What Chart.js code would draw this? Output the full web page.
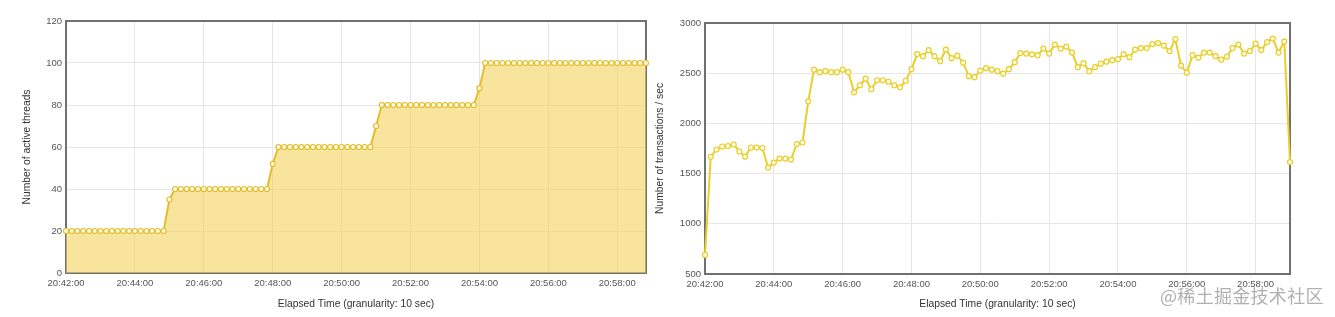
<!DOCTYPE html>
<html>
<head>
<meta charset="utf-8">
<script src="https://cdn.jsdelivr.net/npm/chart.js@4.4.0/dist/chart.umd.min.js"></script>
<style>
    body { margin: 0; background: #fff; width: 1335px; height: 317px; overflow: hidden; position: relative; }
    canvas { position: absolute; top: 0; }
    #threadsChart { left: 0; }
    #tpsChart { left: 640px; }
    .mark {
        position: absolute; left: 1160px; top: 282px;
        font-family: "Noto Sans CJK SC", sans-serif; font-size: 18px;
        color: rgba(150, 150, 150, 0.75); letter-spacing: 0.3px;
    }
</style>
</head>
<body>
<canvas id="threadsChart" width="660" height="317"></canvas>
<canvas id="tpsChart" width="695" height="317"></canvas>
<div class="mark">@稀土掘金技术社区</div>
<script>
// 10 sec granularity, starting at 20:42:00
const granularity = 10;
const startTime = 20 * 3600 + 42 * 60;

const threads = [
    20, 20, 20, 20, 20, 20, 20, 20, 20, 20, 20, 20, 20, 20, 20, 20, 20, 20,
    35,
    40, 40, 40, 40, 40, 40, 40, 40, 40, 40, 40, 40, 40, 40, 40, 40, 40,
    52,
    60, 60, 60, 60, 60, 60, 60, 60, 60, 60, 60, 60, 60, 60, 60, 60, 60,
    70,
    80, 80, 80, 80, 80, 80, 80, 80, 80, 80, 80, 80, 80, 80, 80, 80, 80,
    88,
    100, 100, 100, 100, 100, 100, 100, 100, 100, 100, 100, 100, 100, 100, 100,
    100, 100, 100, 100, 100, 100, 100, 100, 100, 100, 100, 100, 100, 100
];

const tps = [
    690, 1667, 1740, 1770, 1775, 1790, 1720, 1670, 1760, 1760,
    1755, 1560, 1610, 1650, 1650, 1640, 1795, 1810, 2220, 2535,
    2510, 2520, 2510, 2510, 2535, 2510, 2310, 2380, 2445, 2340,
    2430, 2430, 2415, 2380, 2360, 2425, 2540, 2690, 2670, 2730,
    2670, 2620, 2735, 2650, 2675, 2605, 2470, 2460, 2525, 2550,
    2535, 2520, 2495, 2540, 2610, 2700, 2695, 2688, 2680, 2745,
    2695, 2785, 2745, 2765, 2705, 2560, 2600, 2520, 2560, 2595,
    2615, 2630, 2640, 2690, 2660, 2735, 2750, 2750, 2790, 2800,
    2775, 2720, 2840, 2575, 2505, 2680, 2655, 2705, 2705, 2670,
    2635, 2665, 2750, 2785, 2695, 2720, 2795, 2730, 2810, 2845,
    2705, 2815, 1615
];

const xTitle = 'Elapsed Time (granularity: 10 sec)';

function fmtTime(sec) {
    const t = startTime + sec;
    const h = Math.floor(t / 3600);
    const m = Math.floor((t % 3600) / 60);
    const s = t % 60;
    return [h, m, s].map(v => String(v).padStart(2, '0')).join(':');
}

const boxPlugin = {
    id: 'box',
    beforeDatasetsDraw(chart) {
        const a = chart.chartArea;
        const ctx = chart.ctx;
        ctx.save();
        ctx.strokeStyle = '#707070';
        ctx.lineWidth = 2;
        ctx.strokeRect(a.left, a.top, a.right - a.left, a.bottom - a.top);
        ctx.restore();
    }
};

Chart.defaults.font.family = '"Liberation Sans", Arial, sans-serif';

function makeChart(canvasId, values, opts) {
    const ctx = document.getElementById(canvasId).getContext('2d');
    const pts = values.map((v, i) => ({ x: i * granularity, y: v }));
    return new Chart(ctx, {
        type: 'line',
        data: {
            datasets: [{
                data: pts,
                borderColor: opts.color,
                backgroundColor: opts.fillColor,
                fill: opts.fill,
                clip: false,
                borderWidth: 2,
                tension: 0,
                pointRadius: 2.5,
                pointBorderWidth: 1.2,
                pointBorderColor: opts.color,
                pointBackgroundColor: '#fffbe8'
            }]
        },
        options: {
            responsive: false,
            animation: false,
            layout: { padding: { top: opts.top, right: opts.right, left: 0, bottom: 0 } },
            plugins: { legend: { display: false }, tooltip: { enabled: false } },
            scales: {
                x: {
                    type: 'linear',
                    min: 0,
                    max: opts.xMax,
                    afterFit: s => { s.height = opts.xHeight; },
                    grid: { color: '#e6e6e6', drawTicks: false },
                    border: { display: false },
                    ticks: {
                        stepSize: 120,
                        includeBounds: false,
                        maxRotation: 0,
                        padding: 5,
                        color: '#555',
                        font: { size: 9.5 },
                        callback: v => fmtTime(v)
                    },
                    title: {
                        display: true,
                        text: xTitle,
                        color: '#333',
                        font: { size: 10.3 },
                        padding: { top: 4, bottom: 7 }
                    }
                },
                y: {
                    min: opts.yMin,
                    max: opts.yMax,
                    afterFit: s => { s.width = opts.yWidth; },
                    grid: { color: '#e6e6e6', drawTicks: false },
                    border: { display: false },
                    ticks: {
                        stepSize: opts.yStep,
                        padding: 4,
                        color: '#555',
                        font: { size: 9.5 },
                        callback: v => String(v)
                    },
                    title: {
                        display: true,
                        text: opts.yTitle,
                        color: '#333',
                        font: { size: 10.3 },
                        padding: { top: opts.yTitlePad, bottom: 4 }
                    }
                }
            }
        },
        plugins: [boxPlugin]
    });
}

makeChart('threadsChart', threads, {
    color: '#e3be2c',
    fillColor: 'rgba(244, 210, 90, 0.6)',
    fill: 'origin',
    xMax: 1010,
    yMin: 0, yMax: 120, yStep: 20,
    yTitle: 'Number of active threads',
    yWidth: 66, yTitlePad: 21,
    top: 21, right: 14, xHeight: 44
});

makeChart('tpsChart', tps, {
    color: '#e8cf2c',
    fillColor: 'rgba(0,0,0,0)',
    fill: false,
    xMax: 1020,
    yMin: 500, yMax: 3000, yStep: 500,
    yTitle: 'Number of transactions / sec',
    yWidth: 65, yTitlePad: 14,
    top: 23, right: 45, xHeight: 43
});
</script>
</body>
</html>
